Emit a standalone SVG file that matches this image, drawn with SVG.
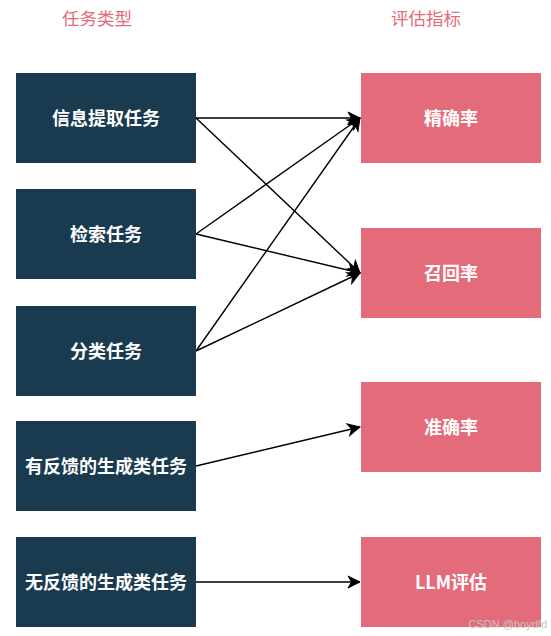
<svg xmlns="http://www.w3.org/2000/svg" width="551" height="636" viewBox="0 0 551 636">
<style>
.task{fill:#193A4F}
.metric{fill:#E46B7A}
.lbl{font-family:"Noto Sans CJK SC","Liberation Sans",sans-serif;font-size:18px;font-weight:600;fill:#FFFFFF;text-anchor:middle;dominant-baseline:central}
.hdr{font-family:"Noto Sans CJK SC","Liberation Sans",sans-serif;font-size:17.5px;fill:#E46B7A;text-anchor:middle;dominant-baseline:central}
.edge{fill:none;stroke:#000000;stroke-width:1.4}
.wm{font-family:"Liberation Sans","Noto Sans",sans-serif;font-size:11px;fill:#C4C4C4;text-anchor:end;dominant-baseline:central}
</style>
<defs>
<marker id="arr" markerUnits="userSpaceOnUse" markerWidth="14" markerHeight="14" orient="auto" refX="0" refY="0" overflow="visible">
<path d="M0,0 L-12,-6 L-8.5,0 L-12,6 Z" fill="#000000" stroke="#000000" stroke-width="1"/>
</marker>
</defs>
<rect width="551" height="636" fill="#FFFFFF"/>
<g id="headers">
<text class="hdr" x="97" y="17.5">任务类型</text>
<text class="hdr" x="426" y="17.5">评估指标</text>
</g>
<g id="connectors">
<path class="edge" d="M196,118 L360,118" marker-end="url(#arr)"/>
<path class="edge" d="M196,118 L360,273" marker-end="url(#arr)"/>
<path class="edge" d="M196,234 L360,118" marker-end="url(#arr)"/>
<path class="edge" d="M196,234 L360,273" marker-end="url(#arr)"/>
<path class="edge" d="M196,351 L360,118" marker-end="url(#arr)"/>
<path class="edge" d="M196,351 L360,273" marker-end="url(#arr)"/>
<path class="edge" d="M196,466 L360,427" marker-end="url(#arr)"/>
<path class="edge" d="M196,582 L360,582" marker-end="url(#arr)"/>
</g>
<g id="task-info">
<rect class="task" x="16" y="73" width="180" height="90"/>
<text class="lbl" x="106" y="117">信息提取任务</text>
</g>
<g id="task-retrieval">
<rect class="task" x="16" y="189" width="180" height="90"/>
<text class="lbl" x="106" y="233">检索任务</text>
</g>
<g id="task-classify">
<rect class="task" x="16" y="306" width="180" height="90"/>
<text class="lbl" x="106" y="350">分类任务</text>
</g>
<g id="task-gen-feedback">
<rect class="task" x="16" y="421" width="180" height="90"/>
<text class="lbl" x="106" y="465">有反馈的生成类任务</text>
</g>
<g id="task-gen-nofeedback">
<rect class="task" x="16" y="537" width="180" height="90"/>
<text class="lbl" x="106" y="581">无反馈的生成类任务</text>
</g>
<g id="metric-precision">
<rect class="metric" x="361" y="73" width="180" height="90"/>
<text class="lbl" x="451" y="117">精确率</text>
</g>
<g id="metric-recall">
<rect class="metric" x="361" y="228" width="180" height="90"/>
<text class="lbl" x="451" y="272">召回率</text>
</g>
<g id="metric-accuracy">
<rect class="metric" x="361" y="382" width="180" height="90"/>
<text class="lbl" x="451" y="426">准确率</text>
</g>
<g id="metric-llm">
<rect class="metric" x="361" y="537" width="180" height="90"/>
<text class="lbl" x="451" y="581">LLM评估</text>
</g>
<text class="wm" x="547" y="624">CSDN @boydfd</text>
</svg>
